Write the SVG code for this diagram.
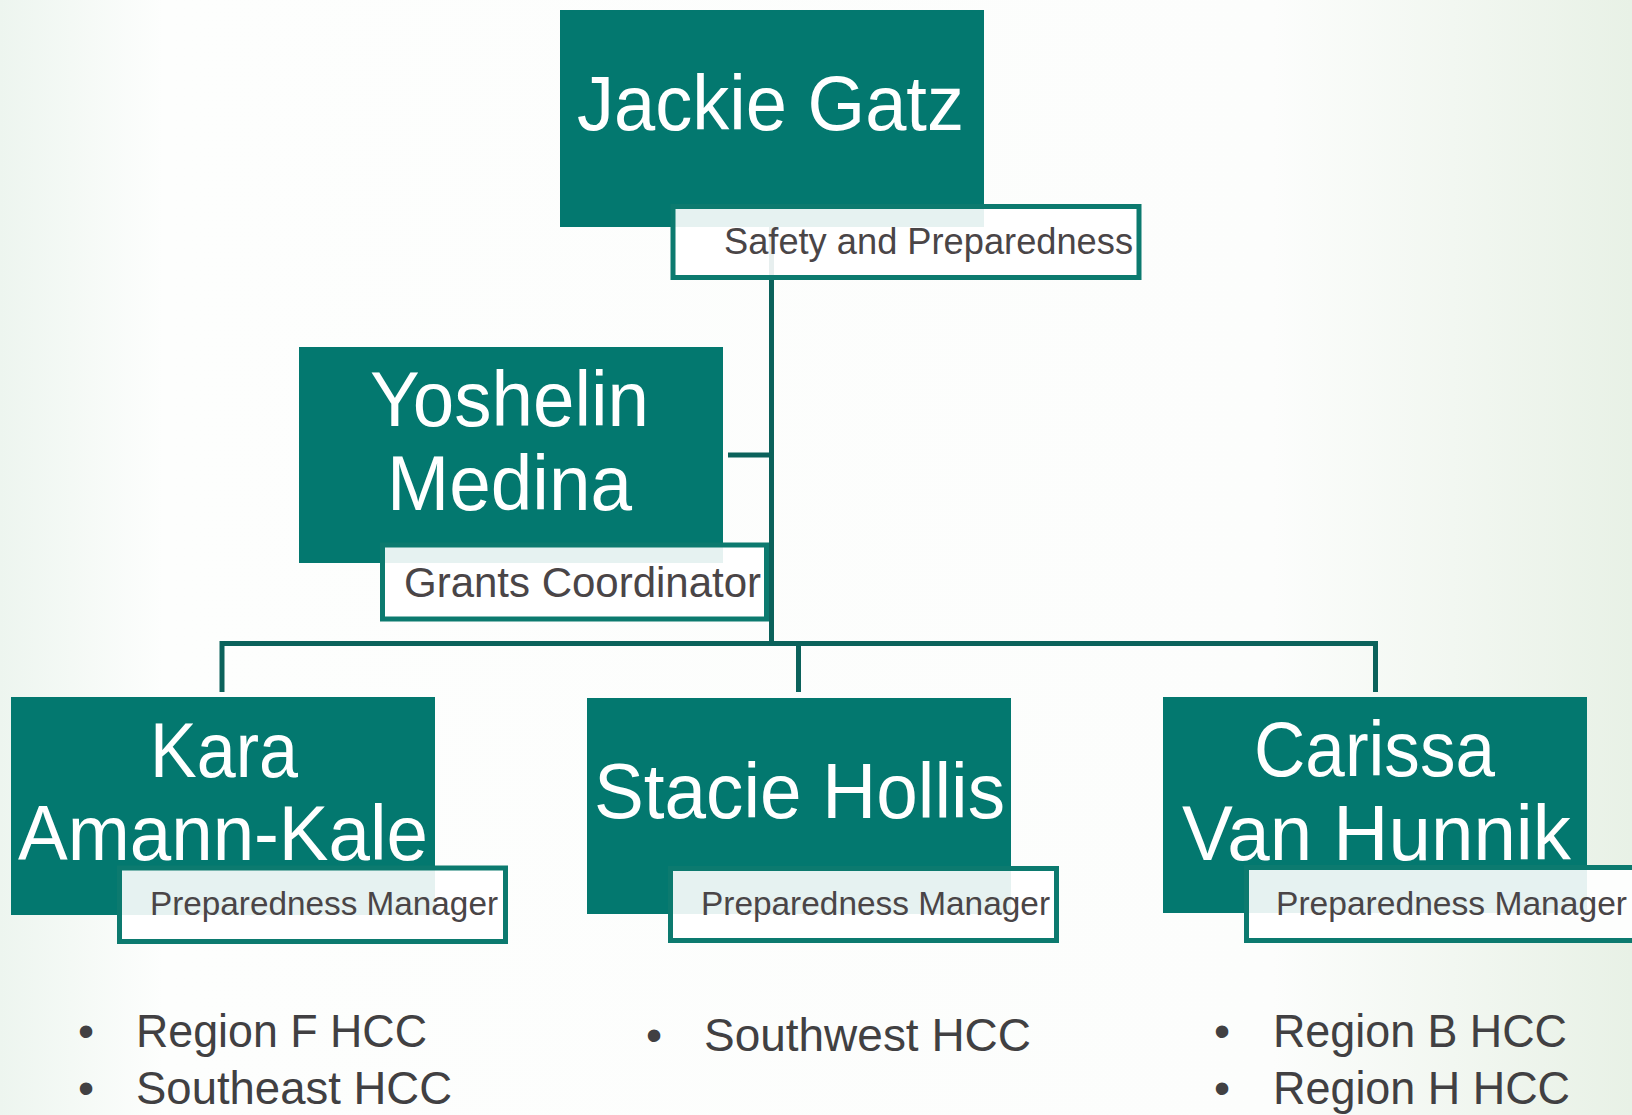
<svg xmlns="http://www.w3.org/2000/svg" width="1632" height="1115" viewBox="0 0 1632 1115">
<defs>
<linearGradient id="bg" x1="0" y1="0" x2="1" y2="0">
<stop offset="0" stop-color="#edf5ef"/>
<stop offset="0.1" stop-color="#fdfefd"/>
<stop offset="0.78" stop-color="#fcfdfc"/>
<stop offset="1" stop-color="#e8f1e6"/>
</linearGradient>
<style>
.box{fill:#03786f}
.lbl{fill:#ffffff;fill-opacity:0.9;stroke:#0c7a6f;stroke-width:5}
.name{font-family:"Liberation Sans",Arial,sans-serif;font-size:77px;fill:#ffffff}
.title{font-family:"Liberation Sans",Arial,sans-serif;fill:#4a4547}
.conn{stroke:#0b625b;stroke-width:5;fill:none}
.bul{font-family:"Liberation Sans",Arial,sans-serif;font-size:46px;fill:#414042}
</style>
</defs>
<rect x="0" y="0" width="1632" height="1115" fill="url(#bg)"/>

<g id="connectors">
<path class="conn" d="M771.5 226 V643.5"/>
<path class="conn" d="M728 455 H771.5"/>
<path class="conn" d="M222 643.5 H1376"/>
<path class="conn" d="M222 641 V692"/>
<path class="conn" d="M798.5 641 V692"/>
<path class="conn" d="M1375.5 641 V692"/>
</g>

<g id="jackie">
<rect class="box" x="560" y="10" width="424" height="217"/>
<text class="name" x="577" y="130" textLength="387" lengthAdjust="spacingAndGlyphs">Jackie Gatz</text>
<rect class="lbl" x="673" y="206.5" width="466" height="71"/>
<text class="title" x="724" y="254" font-size="36" textLength="409" lengthAdjust="spacingAndGlyphs">Safety and Preparedness</text>
</g>

<g id="yoshelin">
<rect class="box" x="299" y="347" width="424" height="216"/>
<text class="name" x="370" y="426" textLength="279" lengthAdjust="spacingAndGlyphs">Yoshelin</text>
<text class="name" x="387" y="510" textLength="245" lengthAdjust="spacingAndGlyphs">Medina</text>
<rect class="lbl" x="382.5" y="545" width="384" height="74"/>
<text class="title" x="404" y="597" font-size="42" textLength="357" lengthAdjust="spacingAndGlyphs">Grants Coordinator</text>
</g>

<g id="kara">
<rect class="box" x="11" y="697" width="424" height="218"/>
<text class="name" x="150" y="777" textLength="148" lengthAdjust="spacingAndGlyphs">Kara</text>
<text class="name" x="18" y="860" textLength="410" lengthAdjust="spacingAndGlyphs">Amann-Kale</text>
<rect class="lbl" x="119.5" y="868" width="386" height="73.5"/>
<text class="title" x="150" y="915" font-size="33" textLength="348" lengthAdjust="spacingAndGlyphs">Preparedness Manager</text>
</g>

<g id="stacie">
<rect class="box" x="587" y="698" width="424" height="216"/>
<text class="name" x="594" y="818" textLength="411" lengthAdjust="spacingAndGlyphs">Stacie Hollis</text>
<rect class="lbl" x="670.5" y="868.5" width="386" height="72"/>
<text class="title" x="701" y="915" font-size="33" textLength="349" lengthAdjust="spacingAndGlyphs">Preparedness Manager</text>
</g>

<g id="carissa">
<rect class="box" x="1163" y="697" width="424" height="216"/>
<text class="name" x="1254" y="776" textLength="241" lengthAdjust="spacingAndGlyphs">Carissa</text>
<text class="name" x="1182" y="860" textLength="389" lengthAdjust="spacingAndGlyphs">Van Hunnik</text>
<rect class="lbl" x="1246.5" y="867.5" width="420" height="73"/>
<text class="title" x="1276" y="915" font-size="33" textLength="351" lengthAdjust="spacingAndGlyphs">Preparedness Manager</text>
</g>

<g id="list-left">
<text class="bul" x="86" y="1047" text-anchor="middle">•</text>
<text class="bul" x="136" y="1047" textLength="291" lengthAdjust="spacingAndGlyphs">Region F HCC</text>
<text class="bul" x="86" y="1104" text-anchor="middle">•</text>
<text class="bul" x="136" y="1104" textLength="316" lengthAdjust="spacingAndGlyphs">Southeast HCC</text>
</g>

<g id="list-middle">
<text class="bul" x="654" y="1051" text-anchor="middle">•</text>
<text class="bul" x="704" y="1051" textLength="327" lengthAdjust="spacingAndGlyphs">Southwest HCC</text>
</g>

<g id="list-right">
<text class="bul" x="1222" y="1047" text-anchor="middle">•</text>
<text class="bul" x="1273" y="1047" textLength="294" lengthAdjust="spacingAndGlyphs">Region B HCC</text>
<text class="bul" x="1222" y="1104" text-anchor="middle">•</text>
<text class="bul" x="1273" y="1104" textLength="297" lengthAdjust="spacingAndGlyphs">Region H HCC</text>
</g>
</svg>
